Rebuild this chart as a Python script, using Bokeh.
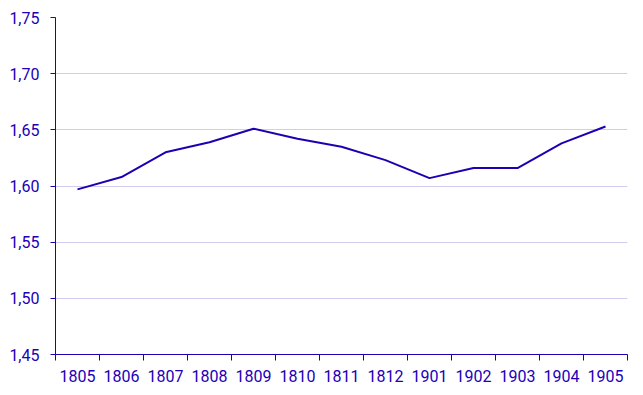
from bokeh.plotting import figure
from bokeh.models import Range1d, FixedTicker, CustomJSTickFormatter, LinearAxis
from bokeh.embed import file_html
from bokeh.resources import INLINE

years = ["1805", "1806", "1807", "1808", "1809", "1810", "1811", "1812",
         "1901", "1902", "1903", "1904", "1905"]
values = [1.597, 1.608, 1.630, 1.639, 1.651, 1.642, 1.635, 1.623,
          1.607, 1.616, 1.616, 1.638, 1.653]
y_ticks = [1.45, 1.50, 1.55, 1.60, 1.65, 1.70, 1.75]

BLUE = "#1e00b4"
TEXT = "#2200b8"
GRID = "#cfcdef"

n = len(years)
xs = [i + 0.5 for i in range(n)]

p = figure(width=635, height=387, output_backend="svg", toolbar_location=None,
           x_range=Range1d(0, n), y_range=Range1d(y_ticks[0], y_ticks[-1]),
           min_border_left=55, min_border_right=8, min_border_top=17, min_border_bottom=33,
           x_axis_location=None, y_axis_location=None)
p.outline_line_color = None
p.background_fill_color = "white"
p.border_fill_color = "white"

xaxis = LinearAxis(ticker=FixedTicker(ticks=xs, minor_ticks=list(range(n + 1))),
                   major_label_overrides={x: y for x, y in zip(xs, years)})
xaxis.major_tick_line_color = None
xaxis.minor_tick_line_color = BLUE
xaxis.minor_tick_out = 6
xaxis.minor_tick_in = 0
xaxis.axis_line_color = BLUE
xaxis.axis_line_width = 1
xaxis.major_label_text_color = TEXT
xaxis.major_label_text_font = "Roboto"
xaxis.major_label_text_font_size = "16px"
xaxis.major_label_standoff = 9
p.add_layout(xaxis, "below")

yaxis = LinearAxis(ticker=FixedTicker(ticks=y_ticks),
                   formatter=CustomJSTickFormatter(code="return tick.toFixed(2).replace('.', ',');"))
yaxis.major_tick_line_color = BLUE
yaxis.major_tick_out = 5
yaxis.major_tick_in = 0
yaxis.minor_tick_line_color = None
yaxis.axis_line_color = BLUE
yaxis.major_label_text_color = TEXT
yaxis.major_label_text_font = "Roboto"
yaxis.major_label_text_font_size = "16px"
yaxis.major_label_standoff = 11
p.add_layout(yaxis, "left")

p.xgrid.grid_line_color = None
p.ygrid.ticker = FixedTicker(ticks=y_ticks)
p.ygrid.grid_line_color = GRID
p.ygrid.grid_line_width = 1

p.line(xs, values, line_color=BLUE, line_width=2)

open("out.html", "w").write(file_html(p, INLINE))
